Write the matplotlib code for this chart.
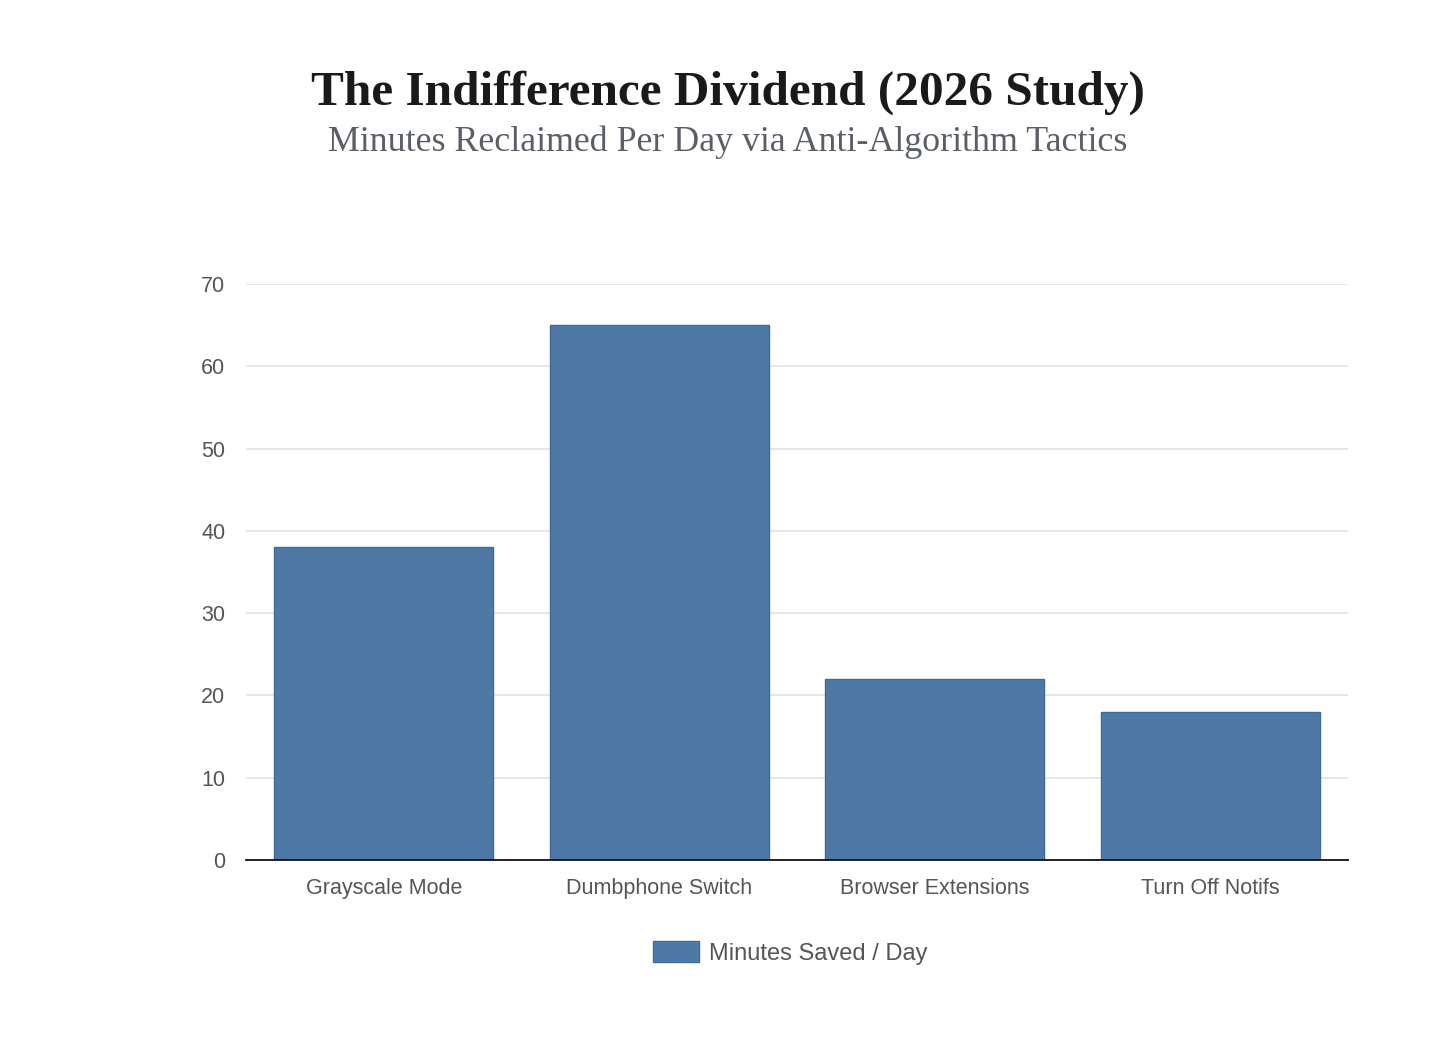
import matplotlib.pyplot as plt
from matplotlib.patches import Patch
import numpy as np

categories = ["Grayscale Mode", "Dumbphone Switch", "Browser Extensions", "Turn Off Notifs"]
minutes_saved = [38, 65, 22, 18]
series_label = "Minutes Saved / Day"
y_ticks = [0, 10, 20, 30, 40, 50, 60, 70]

BAR_COLOR = "#4e79a7"
EDGE_COLOR = "#3f6a9c"
TEXT_GRAY = "#555555"

fig = plt.figure(figsize=(14.56, 10.48), dpi=100)
ax = fig.add_axes([246 / 1456, 1 - 860 / 1048, (1348 - 246) / 1456, (860 - 284) / 1048])

x = np.arange(len(categories))
ax.bar(x, minutes_saved, width=0.795, color=BAR_COLOR, edgecolor=EDGE_COLOR,
       linewidth=1, zorder=3)

ax.set_xlim(-0.5, len(categories) - 0.5)
ax.set_ylim(0, 70)
ax.set_yticks(y_ticks)
ax.set_xticks(x)
ax.set_xticklabels(categories)
ax.grid(axis="y", color="#e3e3e3", linewidth=1.2, zorder=0)
for side in ("left", "right", "top"):
    ax.spines[side].set_visible(False)
ax.spines["bottom"].set_color("#111111")
ax.spines["bottom"].set_linewidth(1.3)
ax.spines["bottom"].set_zorder(4)
ax.tick_params(axis="both", length=0, labelsize=15.5, labelcolor=TEXT_GRAY)
ax.tick_params(axis="y", pad=15)
ax.tick_params(axis="x", pad=13)
for lbl in ax.get_xticklabels() + ax.get_yticklabels():
    lbl.set_family("Liberation Sans")

fig.text(0.5, 1 - 93 / 1048, "The Indifference Dividend (2026 Study)",
         ha="center", va="center", fontsize=35.5, fontweight="bold",
         family="Liberation Serif", color="#1a1a1a")
fig.text(0.5, 1 - 142 / 1048, "Minutes Reclaimed Per Day via Anti-Algorithm Tactics",
         ha="center", va="center", fontsize=25.8, family="Liberation Serif",
         color="#5a5e66")

handle = Patch(facecolor=BAR_COLOR, edgecolor=EDGE_COLOR, label=series_label)
fig.legend(handles=[handle], loc="center", bbox_to_anchor=(790 / 1456, 1 - 953 / 1048),
           frameon=False, handlelength=1.95, handleheight=0.95, handletextpad=0.42,
           prop={"family": "Liberation Sans", "size": 17}, labelcolor=TEXT_GRAY)

fig.savefig("out.png", dpi=100)
